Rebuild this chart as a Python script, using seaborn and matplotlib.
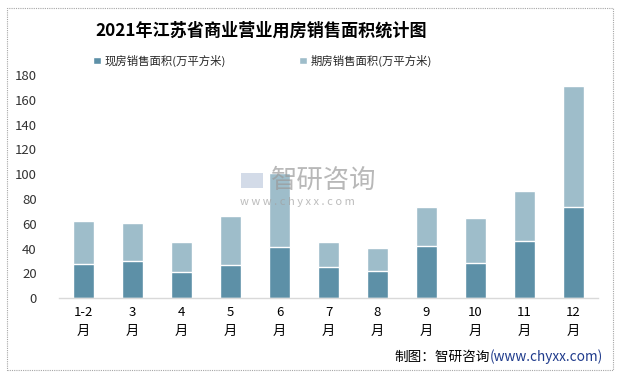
import matplotlib
matplotlib.use("Agg")
import matplotlib.pyplot as plt
import seaborn as sns
import pandas as pd
from matplotlib.patches import Rectangle

months = ["1-2\n月", "3\n月", "4\n月", "5\n月", "6\n月", "7\n月", "8\n月",
          "9\n月", "10\n月", "11\n月", "12\n月"]
spot = [27.3, 29.7, 20.8, 26.5, 41.0, 25.0, 22.0, 42.3, 28.6, 46.4, 73.9]
future = [34.7, 30.7, 24.3, 39.6, 59.9, 20.3, 18.7, 31.6, 36.3, 40.4, 97.1]
yticks = [0, 20, 40, 60, 80, 100, 120, 140, 160, 180]

name_spot = "现房销售面积(万平方米)"
name_future = "期房销售面积(万平方米)"
title = "2021年江苏省商业营业用房销售面积统计图"

sns.set_theme(style="white")
plt.rcParams['font.family'] = ['Noto Sans CJK SC', 'DejaVu Sans']

c_spot = "#5D90A7"
c_future = "#9EBDCA"

df = pd.DataFrame({"month": months, "spot": spot, "future": future})
df["total"] = df["spot"] + df["future"]

fig = plt.figure(figsize=(6.21, 3.75), dpi=100)
ax = fig.add_axes([0.095, 0.205, 0.868, 0.595])

# watermark
fig.text(0.437, 0.518, "智研咨询", fontsize=19, color="#9A9A9A", alpha=0.7,
         ha="left", va="center", zorder=0)
fig.text(0.386, 0.462, "w w w . c h y x x . c o m", fontsize=8, color="#A0A0A0",
         alpha=0.7, ha="left", va="center", zorder=0)
fig.patches.append(Rectangle((0.388, 0.498), 0.035, 0.04, transform=fig.transFigure,
                             facecolor="#C9D3E3", edgecolor="none", alpha=0.8, zorder=0))

sns.barplot(data=df, x="month", y="total", color=c_future, width=0.44, ax=ax,
            saturation=1, label=name_future)
sns.barplot(data=df, x="month", y="spot", color=c_spot, width=0.44, ax=ax,
            saturation=1, label=name_spot)

ax.set_ylim(0, 180)
ax.set_xlim(-0.5, len(months) - 0.5)
ax.set_yticks(yticks)
ax.set_xlabel("")
ax.set_ylabel("")
ax.tick_params(axis="y", labelsize=9.5, pad=16, length=0, colors="#333333")
ax.tick_params(axis="x", labelsize=9.5, pad=6, length=0, colors="#000000")
for lab in ax.get_xticklabels():
    lab.set_linespacing(1.55)
    lab.set_va("top")
for s in ["top", "right", "left"]:
    ax.spines[s].set_visible(False)
ax.spines["bottom"].set_color("#D9D9D9")
ax.spines["bottom"].set_linewidth(1)
ax.patch.set_alpha(0)
if ax.legend_:
    ax.legend_.remove()

handles, labels = ax.get_legend_handles_labels()
order = [labels.index(name_spot), labels.index(name_future)]
fig.legend([handles[i] for i in order], [labels[i] for i in order],
           loc="center", bbox_to_anchor=(0.423, 0.838), ncol=2, frameon=False,
           fontsize=8.2, handlelength=0.65, handleheight=0.65, handletextpad=0.35,
           columnspacing=6.4)

fig.text(0.421, 0.918, title, fontsize=12.3, fontweight="bold", ha="center",
         va="center", color="#000000")

blue = fig.text(0.971, 0.048, "(www.chyxx.com)", fontsize=9.8, color="#1F3B8C",
                ha="right", va="center")
plt.annotate("制图：智研咨询", xy=(0, 0.5), xycoords=blue, ha="right", va="center",
             fontsize=9.8, color="#000000")

fig.patches.append(Rectangle((7 / 621, 5 / 375), 606 / 621, 362 / 375,
                             transform=fig.transFigure, fill=False,
                             edgecolor="#A6A6A6", linestyle=(0, (1, 1)), linewidth=0.8))

fig.savefig("out.png", dpi=100)
